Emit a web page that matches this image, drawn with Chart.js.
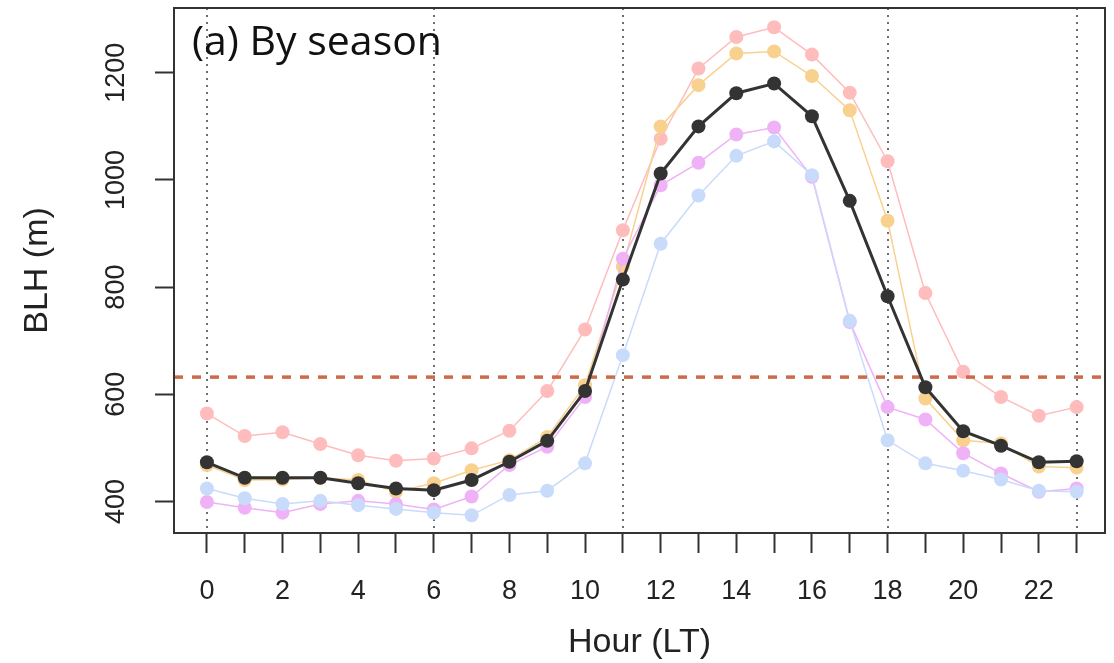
<!DOCTYPE html>
<html lang="en">
<head>
    <meta charset="UTF-8">
    <title>BLH by season</title>
    <script src="https://cdn.jsdelivr.net/npm/chart.js"></script>
    <style>
        html, body { margin: 0; padding: 0; background: #fff; }
        #wrap { width: 1114px; height: 663px; }
    </style>
</head>
<body>
    <div id="wrap"><canvas id="blh"></canvas></div>
    <script>
        // hora local 0..23
        const hours = [0, 1, 2, 3, 4, 5, 6, 7, 8, 9, 10, 11, 12, 13, 14, 15, 16, 17, 18, 19, 20, 21, 22, 23];
        const yTicks = [400, 600, 800, 1000, 1200];

        // BLH (m) por estação
        const blhMean   = [473, 444, 444, 444, 434, 424, 421, 440, 474, 513, 606, 814, 1012, 1100, 1162, 1180, 1119, 961, 783, 613, 531, 504, 473, 475];
        const blhPink   = [564, 522, 529, 507, 486, 476, 480, 499, 532, 606, 721, 906, 1077, 1208, 1267, 1285, 1234, 1163, 1035, 789, 642, 595, 560, 576];
        const blhOrange = [468, 440, 441, 444, 440, 418, 434, 458, 477, 520, 617, 838, 1100, 1177, 1236, 1240, 1194, 1130, 924, 592, 514, 508, 465, 463];
        const blhViolet = [399, 388, 379, 395, 401, 395, 385, 409, 468, 502, 595, 853, 990, 1032, 1085, 1098, 1006, 735, 576, 553, 490, 452, 418, 424];
        const blhBlue   = [424, 406, 395, 401, 393, 386, 379, 374, 412, 420, 471, 673, 881, 971, 1045, 1072, 1009, 737, 514, 471, 457, 441, 420, 418];

        const threshold = 632;
        const markedHours = [0, 6, 11, 18, 23];
        const panelLabel = '(a) By season';

        const X_MIN = -0.87, X_MAX = 23.75;
        const FAMILY = "'Liberation Sans', Arial, sans-serif";

        const pts = arr => arr.map((v, i) => ({ x: hours[i], y: v }));

        function serie(label, values, color, width, radius) {
            return {
                label: label,
                data: pts(values),
                borderColor: color,
                backgroundColor: color,
                borderWidth: width,
                pointRadius: radius,
                pointHoverRadius: radius,
                pointBorderWidth: 0,
                tension: 0
            };
        }

        // sem folga extra das escalas: a área do gráfico fica onde o layout manda
        function semFolga(s) {
            s.paddingTop = 0;
            s.paddingBottom = 0;
            s.paddingLeft = 0;
            s.paddingRight = 0;
        }

        // moldura, linhas pontilhadas e rótulo do painel
        const extras = {
            id: 'extras',
            beforeDatasetsDraw(chart) {
                const { ctx, chartArea: a, scales: { x } } = chart;
                ctx.save();
                ctx.strokeStyle = '#6e6e6e';
                ctx.lineWidth = 2;
                ctx.setLineDash([2, 5]);
                markedHours.forEach(h => {
                    const px = Math.round(x.getPixelForValue(h));
                    ctx.beginPath();
                    ctx.moveTo(px, a.top);
                    ctx.lineTo(px, a.bottom);
                    ctx.stroke();
                });
                ctx.restore();
            },
            afterDraw(chart) {
                const { ctx, chartArea: a } = chart;
                ctx.save();
                ctx.strokeStyle = '#333';
                ctx.lineWidth = 2;
                ctx.strokeRect(a.left, a.top, a.right - a.left, a.bottom - a.top);
                ctx.fillStyle = '#111';
                ctx.font = "41px 'Open Sans'";
                ctx.textBaseline = 'alphabetic';
                ctx.fillText(panelLabel, 192, 55);
                ctx.restore();
            }
        };

        function desenhar() {
            new Chart(document.getElementById('blh'), {
                type: 'line',
                data: {
                    datasets: [
                        serie('Mean', blhMean, '#333333', 3, 7),
                        {
                            label: 'Threshold',
                            data: [{ x: X_MIN, y: threshold }, { x: X_MAX, y: threshold }],
                            borderColor: '#cf6a48',
                            borderWidth: 3.5,
                            borderDash: [9, 9],
                            pointRadius: 0,
                            pointHoverRadius: 0
                        },
                        serie('S4', blhBlue, '#c9dbfa', 1.5, 7),
                        serie('S3', blhViolet, '#f0b2f7', 1.5, 7),
                        serie('S2', blhOrange, '#f9d18f', 1.5, 7),
                        serie('S1', blhPink, '#ffbcbc', 1.5, 7)
                    ]
                },
                options: {
                    responsive: true,
                    maintainAspectRatio: false,
                    animation: false,
                    layout: { padding: { top: 8, right: 9, left: 0, bottom: 0 } },
                    plugins: {
                        legend: { display: false },
                        tooltip: { enabled: false }
                    },
                    scales: {
                        x: {
                            type: 'linear',
                            min: X_MIN,
                            max: X_MAX,
                            afterBuildTicks: s => { s.ticks = hours.map(h => ({ value: h })); },
                            afterFit: s => { s.height = 130; semFolga(s); },
                            border: { display: false },
                            grid: {
                                drawOnChartArea: false,
                                drawTicks: true,
                                tickLength: 20,
                                tickColor: '#333',
                                tickWidth: 2
                            },
                            ticks: {
                                autoSkip: false,
                                maxRotation: 0,
                                padding: 22,
                                color: '#222',
                                font: { family: FAMILY, size: 27 },
                                callback: v => (v % 2 === 0 ? String(v) : '')
                            },
                            title: {
                                display: true,
                                text: 'Hour (LT)',
                                color: '#222',
                                font: { family: FAMILY, size: 34 },
                                padding: { top: 3, bottom: 0 }
                            }
                        },
                        y: {
                            min: 341,
                            max: 1321,
                            afterBuildTicks: s => { s.ticks = yTicks.map(v => ({ value: v })); },
                            afterFit: s => { s.width = 174; semFolga(s); },
                            border: { display: false },
                            grid: {
                                drawOnChartArea: false,
                                drawTicks: true,
                                tickLength: 19,
                                tickColor: '#333',
                                tickWidth: 2
                            },
                            ticks: {
                                minRotation: 90,
                                maxRotation: 90,
                                crossAlign: 'center',
                                padding: 8,
                                color: '#222',
                                font: { family: FAMILY, size: 27 },
                                callback: v => String(v)
                            },
                            title: {
                                display: true,
                                text: 'BLH (m)',
                                color: '#222',
                                font: { family: FAMILY, size: 34 },
                                padding: { top: 17, bottom: 0 }
                            }
                        }
                    }
                },
                plugins: [extras]
            });
        }

        Promise.all([
            document.fonts.load("27px 'Liberation Sans'"),
            document.fonts.load("41px 'Open Sans'")
        ]).then(desenhar, desenhar);
    </script>
</body>
</html>
